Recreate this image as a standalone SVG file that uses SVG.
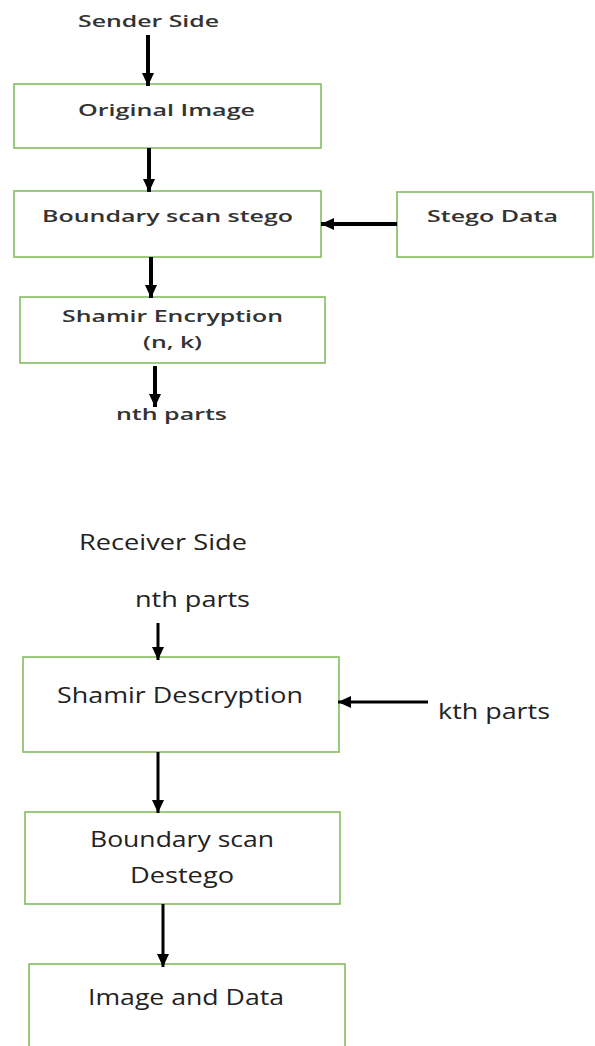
<svg xmlns="http://www.w3.org/2000/svg" width="595" height="1046" viewBox="0 0 595 1046">
<style>
.box{fill:#fff;stroke:#82bd5e;stroke-width:1.6}
.t1{font-family:"Open Sans","Liberation Sans",sans-serif;font-size:16px;font-weight:600;fill:#333;text-anchor:start}
.t2{font-family:"Open Sans","Liberation Sans",sans-serif;font-size:22px;font-weight:400;fill:#222;text-anchor:start}
.c1{fill:none;stroke:#000;stroke-width:4}
.c2{fill:none;stroke:#000;stroke-width:3}
</style>
<defs>
<marker id="ah" markerUnits="userSpaceOnUse" markerWidth="14" markerHeight="14" viewBox="0 0 14 14" refX="13" refY="7" orient="auto">
<polygon points="0,1 13,7 0,13" fill="#000"/>
</marker>
</defs>
<rect width="595" height="1046" fill="#fff"/>
<g id="labels">
<text class="t1" x="78" y="27" textLength="141" lengthAdjust="spacingAndGlyphs">Sender Side</text>
<text class="t1" x="116" y="420" textLength="111" lengthAdjust="spacingAndGlyphs">nth parts</text>
<text class="t2" x="79" y="550" textLength="168" lengthAdjust="spacingAndGlyphs">Receiver Side</text>
<text class="t2" x="135" y="607" textLength="115" lengthAdjust="spacingAndGlyphs">nth parts</text>
<text class="t2" x="438" y="719" textLength="112" lengthAdjust="spacingAndGlyphs">kth parts</text>
</g>
<g id="n1"><rect class="box" x="14" y="84" width="307" height="64"/>
<text class="t1" x="78" y="116" textLength="177" lengthAdjust="spacingAndGlyphs">Original Image</text></g>
<g id="n2"><rect class="box" x="14" y="191" width="307" height="66"/>
<text class="t1" x="42" y="222" textLength="251" lengthAdjust="spacingAndGlyphs">Boundary scan stego</text></g>
<g id="n3"><rect class="box" x="397" y="192" width="196" height="65"/>
<text class="t1" x="427" y="222" textLength="131" lengthAdjust="spacingAndGlyphs">Stego Data</text></g>
<g id="n4"><rect class="box" x="20" y="297" width="305" height="66"/>
<text class="t1" x="62" y="322" textLength="221" lengthAdjust="spacingAndGlyphs">Shamir Encryption</text>
<text class="t1" x="143" y="348" textLength="59" lengthAdjust="spacingAndGlyphs">(n, k)</text></g>
<g id="n5"><rect class="box" x="23" y="657" width="316" height="95"/>
<text class="t2" x="57" y="703" textLength="246" lengthAdjust="spacingAndGlyphs">Shamir Descryption</text></g>
<g id="n6"><rect class="box" x="25" y="812" width="315" height="92"/>
<text class="t2" x="90" y="847" textLength="184" lengthAdjust="spacingAndGlyphs">Boundary scan</text>
<text class="t2" x="130" y="883" textLength="104" lengthAdjust="spacingAndGlyphs">Destego</text></g>
<g id="n7"><rect class="box" x="29" y="964" width="316" height="100"/>
<text class="t2" x="88" y="1005" textLength="196" lengthAdjust="spacingAndGlyphs">Image and Data</text></g>
<g id="connectors">
<line class="c1" x1="148" y1="35" x2="148" y2="86" marker-end="url(#ah)"/>
<line class="c1" x1="149" y1="148" x2="149" y2="192" marker-end="url(#ah)"/>
<line class="c1" x1="397" y1="224" x2="321" y2="224" marker-end="url(#ah)"/>
<line class="c1" x1="151" y1="257" x2="151" y2="298" marker-end="url(#ah)"/>
<line class="c1" x1="155" y1="366" x2="155" y2="407" marker-end="url(#ah)"/>
<line class="c2" x1="158" y1="623" x2="158" y2="660" marker-end="url(#ah)"/>
<line class="c2" x1="428" y1="702" x2="338" y2="702" marker-end="url(#ah)"/>
<line class="c2" x1="158" y1="752" x2="158" y2="813" marker-end="url(#ah)"/>
<line class="c2" x1="163" y1="904" x2="163" y2="967" marker-end="url(#ah)"/>
</g>
</svg>
